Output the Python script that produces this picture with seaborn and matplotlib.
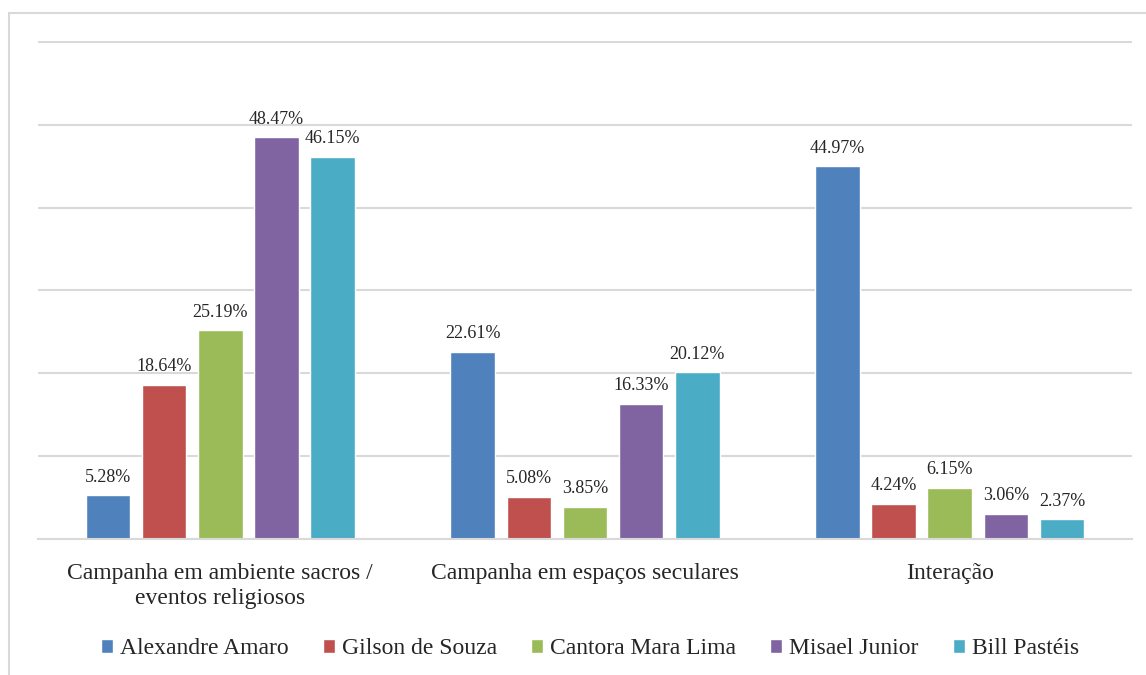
import matplotlib
matplotlib.use("Agg")
import matplotlib.pyplot as plt
from matplotlib.patches import Rectangle
import seaborn as sns
import pandas as pd

# Chart data
categories = ["Campanha em ambiente sacros /\neventos religiosos",
              "Campanha em espaços seculares",
              "Interação"]
people = ["Alexandre Amaro", "Gilson de Souza", "Cantora Mara Lima",
          "Misael Junior", "Bill Pastéis"]
alexandre = [5.28, 22.61, 44.97]
gilson = [18.64, 5.08, 4.24]
mara = [25.19, 3.85, 6.15]
misael = [48.47, 16.33, 3.06]
bill = [46.15, 20.12, 2.37]
colors = ["#4F81BD", "#C0504D", "#9BBB59", "#8064A2", "#4BACC6"]

series = [alexandre, gilson, mara, misael, bill]
rows = []
for name, vals in zip(people, series):
    for cat, v in zip(categories, vals):
        rows.append({"categoria": cat, "pessoa": name, "valor": v})
df = pd.DataFrame(rows)

sns.set_style("white")
plt.rcParams["font.family"] = ["Liberation Serif", "DejaVu Serif"]

fig = plt.figure(figsize=(11.46, 6.75), dpi=100)
ax = fig.add_axes([38 / 1146, 1 - 539 / 675, (1132 - 38) / 1146, (539 - 41) / 675])

sns.barplot(data=df, x="categoria", y="valor", hue="pessoa", order=categories,
            hue_order=people, palette=colors, width=0.77, gap=0.21,
            saturation=1, ax=ax, legend=True)

for cont in ax.containers:
    ax.bar_label(cont, labels=[f"{v:.2f}%" for v in cont.datavalues],
                 padding=7, fontsize=13)

ax.set_ylim(0, 60.1)
ax.set_yticks(range(0, 61, 10))
ax.set_yticklabels([])
ax.tick_params(axis="y", length=0)
ax.tick_params(axis="x", length=0, pad=17, labelsize=17)
ax.yaxis.grid(True, color="#D9D9D9", linewidth=1.5)
ax.set_axisbelow(True)
for s in ["left", "right", "top"]:
    ax.spines[s].set_visible(False)
ax.spines["bottom"].set_color("#D9D9D9")
ax.spines["bottom"].set_linewidth(1.5)
ax.set_xlabel("")
ax.set_ylabel("")
ax.set_xlim(-0.5, 2.5)
for lbl in ax.get_xticklabels():
    lbl.set_linespacing(1.25)

handles, labels = ax.get_legend_handles_labels()
ax.legend_.remove()
fig.legend(handles, labels, loc="center", bbox_to_anchor=(590 / 1146, 1 - 649 / 675),
           ncol=5, frameon=False, fontsize=17, handlelength=0.5,
           handleheight=0.5, handletextpad=0.3, columnspacing=1.45)

# light chart-area border (left and top visible)
fig.patches.append(Rectangle((8.5 / 1146, -0.1), 1.2, 1 - 12.5 / 675 + 0.1,
                             transform=fig.transFigure, fill=False,
                             edgecolor="#D9D9D9", linewidth=1.5))

fig.savefig("out.png", dpi=100)
